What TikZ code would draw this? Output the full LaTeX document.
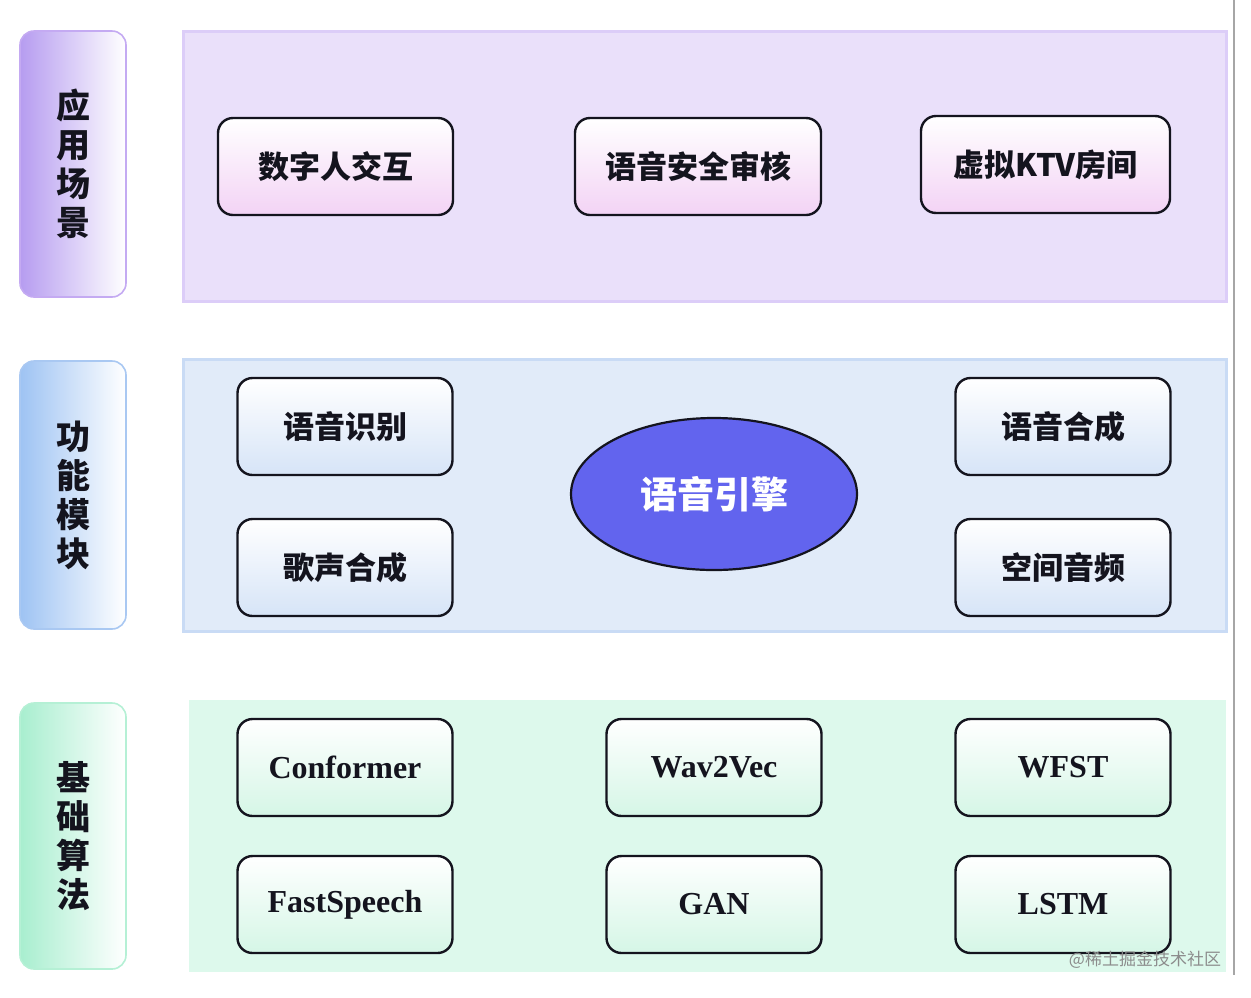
\documentclass[tikz,border=0pt]{standalone}
\usepackage{fontspec}
\usepackage{xcolor}
\usepackage{tikz}
\usetikzlibrary{shapes.geometric, positioning}
\setmainfont{Liberation Serif}
\newfontfamily\cjk{Noto Sans CJK SC}
\definecolor{lavpanel}{RGB}{234,224,250}
\definecolor{lavedge}{RGB}{220,205,248}
\definecolor{bluepanel}{RGB}{225,235,249}
\definecolor{blueedge}{RGB}{201,219,245}
\definecolor{mintpanel}{RGB}{221,249,236}
\definecolor{lablav}{RGB}{182,156,240}
\definecolor{lablavedge}{RGB}{196,170,242}
\definecolor{labblue}{RGB}{158,195,243}
\definecolor{labblueedge}{RGB}{169,200,242}
\definecolor{labmint}{RGB}{168,238,207}
\definecolor{labmintedge}{RGB}{181,240,213}
\definecolor{pinkbot}{RGB}{243,211,245}
\definecolor{bluebot}{RGB}{214,228,247}
\definecolor{mintbot}{RGB}{213,246,230}
\definecolor{engineblue}{RGB}{98,100,238}
\definecolor{mydark}{RGB}{20,20,30}
\tikzset{
  lanelabel/.style={rectangle, rounded corners=7pt, line width=0.8pt,
    minimum width=53pt, minimum height=133pt, align=center,
    font=\cjk\bfseries\fontsize{17}{19.5}\selectfont, text=mydark},
  appbox/.style={rectangle, rounded corners=7.5pt, draw=mydark, line width=1.2pt,
    top color=white, bottom color=pinkbot, minimum height=48.5pt,
    font=\cjk\bfseries\fontsize{15.5}{18}\selectfont, text=mydark},
  funcbox/.style={rectangle, rounded corners=7.5pt, draw=mydark, line width=1.2pt,
    top color=white, bottom color=bluebot, minimum width=107.5pt, minimum height=48.5pt,
    font=\cjk\bfseries\fontsize{15.5}{18}\selectfont, text=mydark},
  algbox/.style={rectangle, rounded corners=7.5pt, draw=mydark, line width=1.2pt,
    top color=white, bottom color=mintbot, minimum width=107.5pt, minimum height=48.5pt,
    font=\bfseries\fontsize{16}{18}\selectfont, text=mydark},
  engine/.style={ellipse, draw=mydark, line width=1.1pt, fill=engineblue,
    minimum width=143pt, minimum height=76pt,
    font=\cjk\bfseries\fontsize{18.5}{20}\selectfont, text=white}
}
\begin{document}
\begin{tikzpicture}[x=0.5pt, y=-0.5pt]
  \useasboundingbox (0,0) rectangle (1251,997);

  % layer panels
  \path[fill=lavpanel, draw=lavedge, line width=1.5pt] (183,31) rectangle (1226,301);
  \path[fill=bluepanel, draw=blueedge, line width=1.5pt] (183,359) rectangle (1226,631);
  \path[fill=mintpanel] (189,700) rectangle (1226,972);

  % layer labels
  \node[lanelabel, left color=lablav, right color=white, draw=lablavedge] (labapp) at (73,164) {应\\用\\场\\景};
  \node[lanelabel, left color=labblue, right color=white, draw=labblueedge, minimum height=134pt] (labfunc) at (73,495) {功\\能\\模\\块};
  \node[lanelabel, left color=labmint, right color=white, draw=labmintedge] (labalg) at (73,836) {基\\础\\算\\法};

  % application scenes
  \node[appbox, minimum width=117.5pt] (digital) at (335.5,166.5) {数字人交互};
  \node[appbox, minimum width=123pt] (audit) at (698,166.5) {语音安全审核};
  \node[appbox, minimum width=124.5pt] (ktv) at (1045.5,164.5) {虚拟KTV房间};

  % function modules
  \node[funcbox] (asr) at (345,426.5) {语音识别};
  \node[funcbox] (svs) at (345,567.5) {歌声合成};
  \node[funcbox] (tts) at (1063,426.5) {语音合成};
  \node[funcbox] (spatial) at (1063,567.5) {空间音频};
  \node[engine] (core) at (714,494) {语音引擎};

  % base algorithms
  \node[algbox] (conformer) at (345,767.5) {Conformer};
  \node[algbox] (wavvec) at (714,767.5) {Wav2Vec};
  \node[algbox] (wfst) at (1063,767.5) {WFST};
  \node[algbox] (fastspeech) at (345,904.5) {FastSpeech};
  \node[algbox] (gan) at (714,904.5) {GAN};
  \node[algbox] (lstm) at (1063,904.5) {LSTM};

  \draw[black!35, line width=0.6pt] (1234,0) -- (1234,975);
  \node[font=\cjk\fontsize{8.5}{10}\selectfont, text=black!45] (mark) at (1145,960) {@稀土掘金技术社区};
\end{tikzpicture}
\end{document}
